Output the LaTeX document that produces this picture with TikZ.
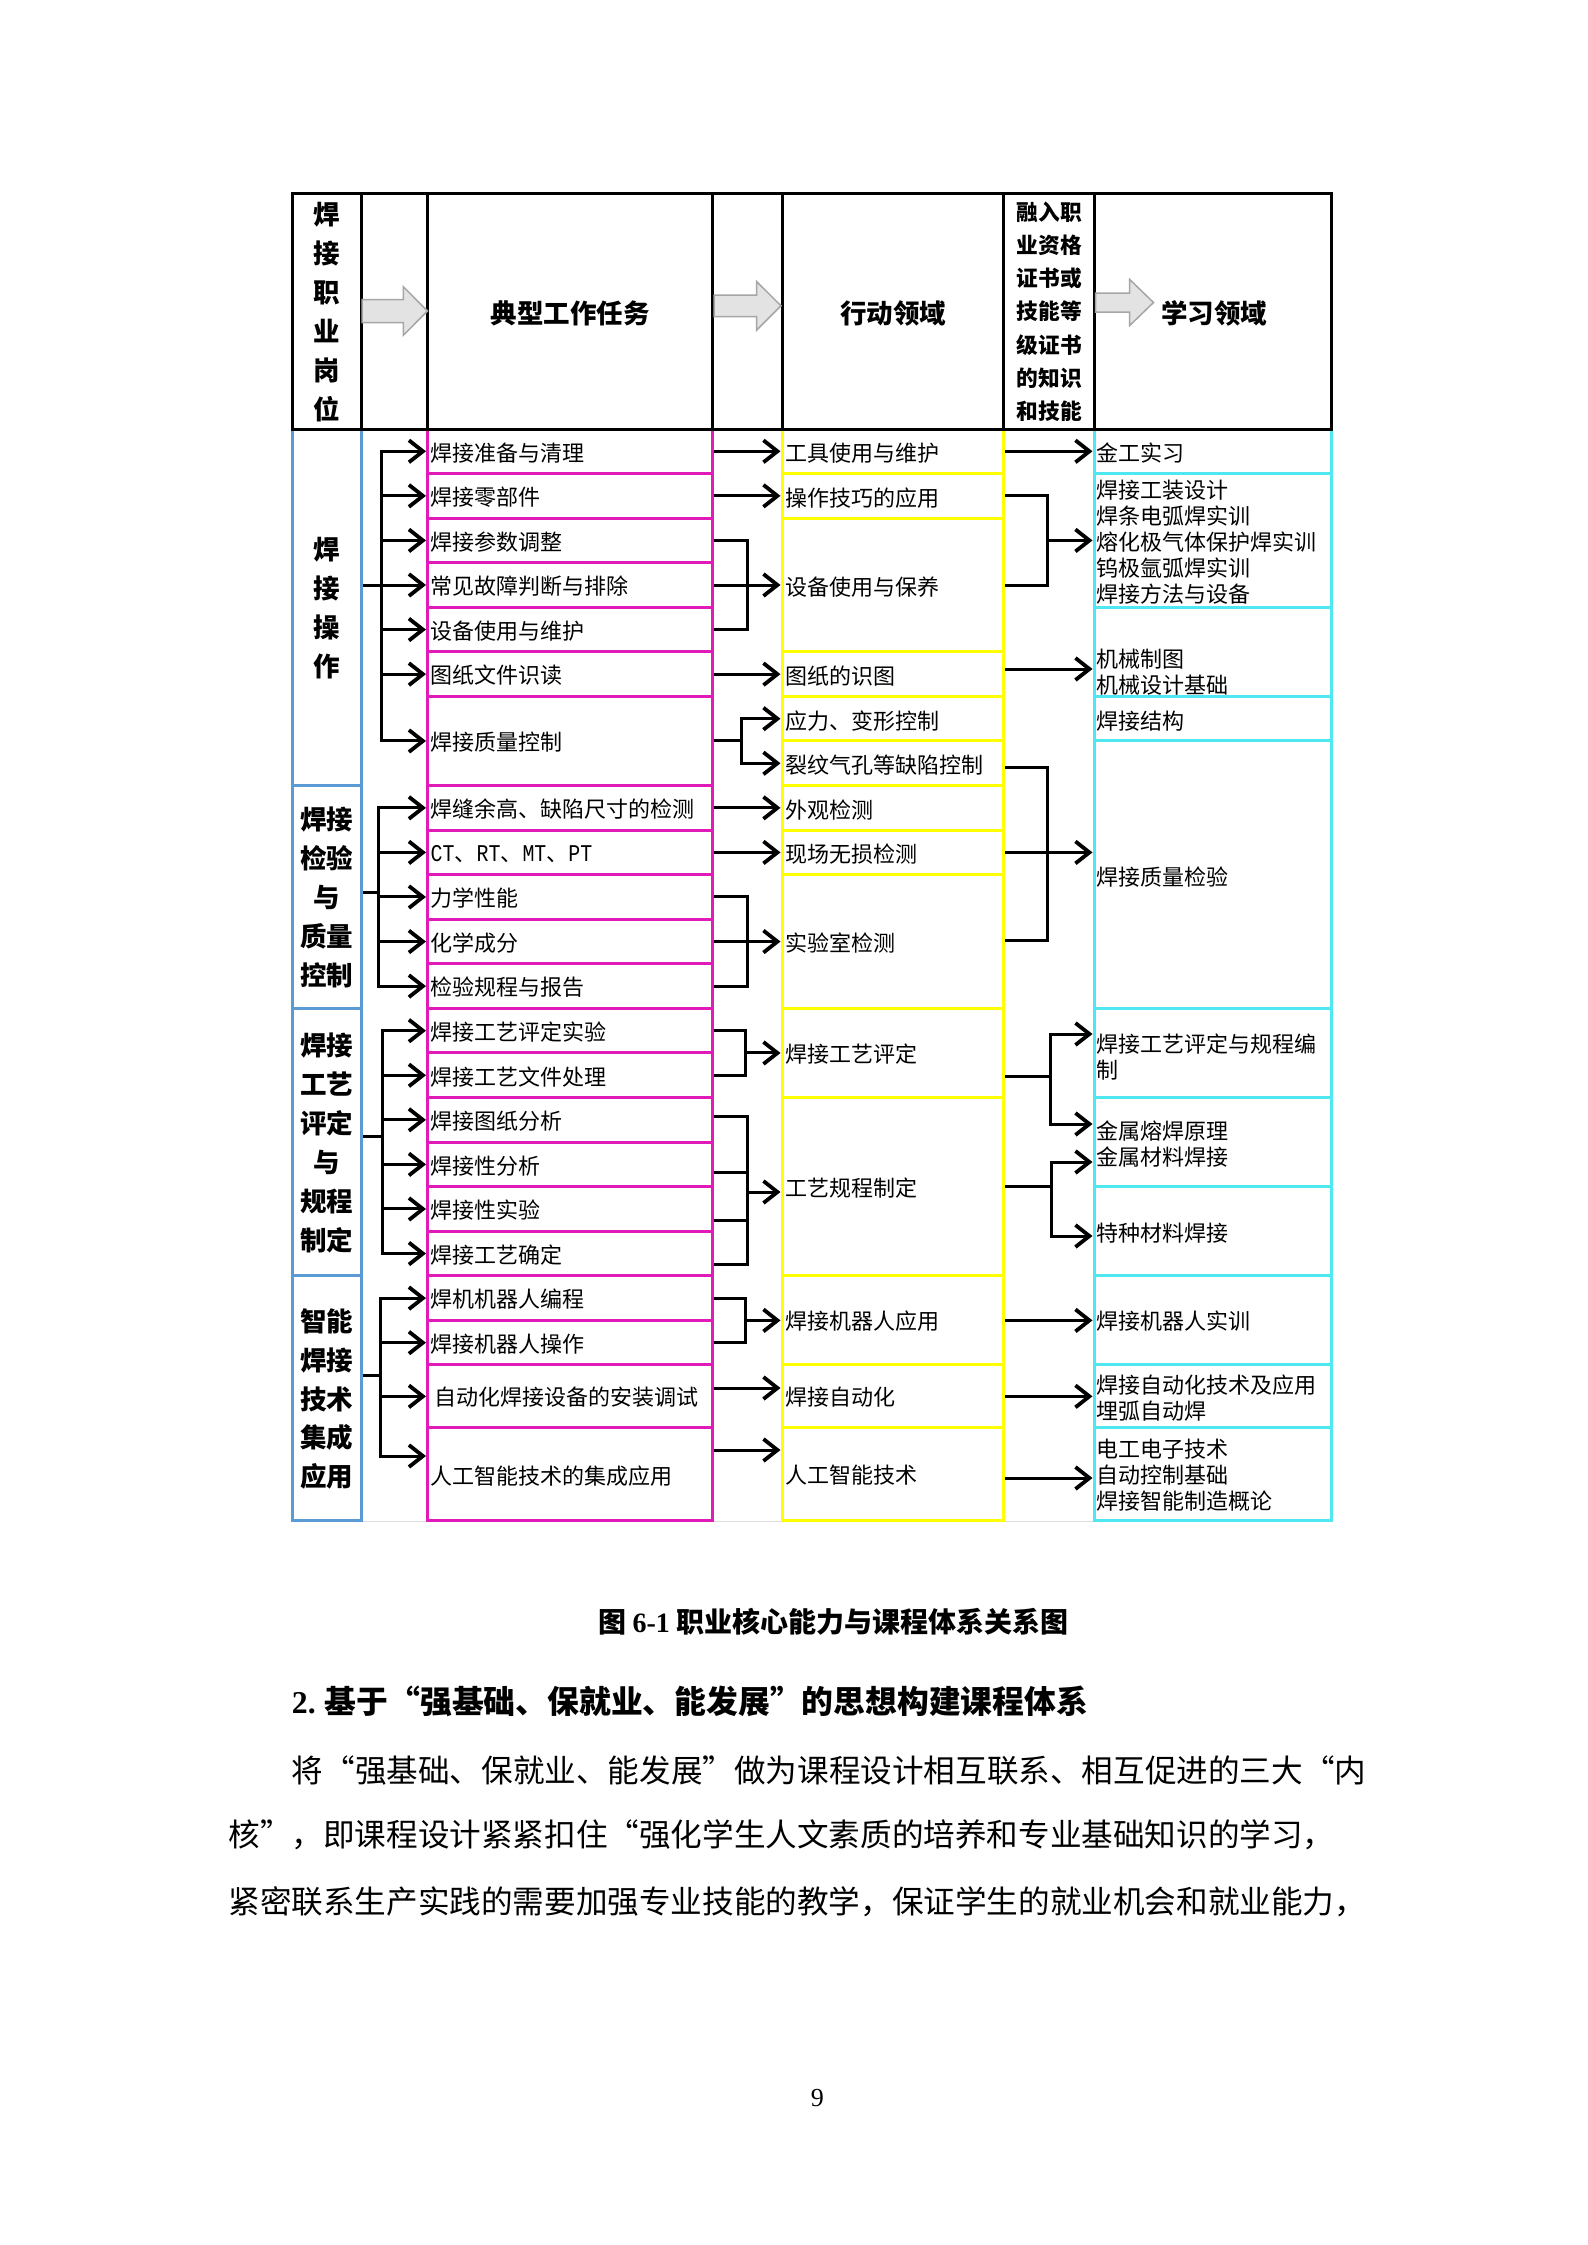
\documentclass[tikz,border=0pt]{standalone}
\usepackage{fontspec}
\setmainfont{Noto Sans CJK SC}
\newfontfamily\monof{Liberation Mono}[FakeStretch=0.83]
\newfontfamily\serifr{Liberation Serif}
\usetikzlibrary{arrows.meta,fit}
\definecolor{pinkc}{RGB}{224,27,185}
\definecolor{yelc}{RGB}{255,255,0}
\definecolor{cyanc}{RGB}{80,232,240}
\definecolor{bluec}{RGB}{91,155,213}
\newcommand\myLQ{\makebox[1em][r]{“}}
\newcommand\myRQ{\makebox[1em][l]{”}}
\begin{document}
\begin{tikzpicture}[x=1pt,y=-1pt,
  cell/.style={inner sep=0pt, line width=3pt},
  hdr/.style={cell, draw=black},
  bcell/.style={cell, draw=bluec},
  pcell/.style={cell, draw=pinkc},
  ycell/.style={cell, draw=yelc},
  ccell/.style={cell, draw=cyanc},
  txt/.style={anchor=west, inner sep=0pt, font=\fontsize{22}{26}\selectfont, align=left},
  hlab/.style={anchor=center, inner sep=0pt, font=\fontsize{26.5}{38.9}\selectfont\bfseries, align=center},
  conn/.style={line width=3pt, draw=black},
  arr/.style={conn, -{Straight Barb[length=14pt,width=22pt,line width=3.8pt]}},
  garrow/.style={fill=gray!22, draw=gray!70, line width=1.5pt, line join=miter},
  para/.style={anchor=west, inner sep=0pt, font=\fontsize{31.6}{36}\selectfont}
]
\fill[white] (0,0) rectangle (1587,2245);
\useasboundingbox (0,0) rectangle (1587,2245);

% faint bottom line
\draw[gray!25, line width=1.5pt] (292,1521.7) -- (1331,1521.7);

% ---------- blue group cells ----------
\node[bcell, fit={(292,429) (361,785.56)}] (g1) {};
\node[bcell, fit={(292,785.56) (361,1008.41)}] (g2) {};
\node[bcell, fit={(292,1008.41) (361,1275.83)}] (g3) {};
\node[bcell, fit={(292,1275.83) (361,1520.7)}] (g4) {};
\node[hlab] (g1t) at (326.5,608.3) {焊\\接\\操\\作};
\node[hlab] (g2t) at (326.5,897.5) {焊接\\检验\\与\\质量\\控制};
\node[hlab] (g3t) at (326.5,1142.8) {焊接\\工艺\\评定\\与\\规程\\制定};
\node[hlab] (g4t) at (326.5,1399) {智能\\焊接\\技术\\集成\\应用};

% ---------- pink task cells ----------
\node[pcell, fit={(427.5,429) (712.5,473.57)}] (t1) {};
\node[pcell, fit={(427.5,473.57) (712.5,518.14)}] (t2) {};
\node[pcell, fit={(427.5,518.14) (712.5,562.71)}] (t3) {};
\node[pcell, fit={(427.5,562.71) (712.5,607.28)}] (t4) {};
\node[pcell, fit={(427.5,607.28) (712.5,651.85)}] (t5) {};
\node[pcell, fit={(427.5,651.85) (712.5,696.42)}] (t6) {};
\node[pcell, fit={(427.5,696.42) (712.5,785.56)}] (t7) {};
\node[pcell, fit={(427.5,785.56) (712.5,830.13)}] (t8) {};
\node[pcell, fit={(427.5,830.13) (712.5,874.70)}] (t9) {};
\node[pcell, fit={(427.5,874.70) (712.5,919.27)}] (t10) {};
\node[pcell, fit={(427.5,919.27) (712.5,963.84)}] (t11) {};
\node[pcell, fit={(427.5,963.84) (712.5,1008.41)}] (t12) {};
\node[pcell, fit={(427.5,1008.41) (712.5,1052.98)}] (t13) {};
\node[pcell, fit={(427.5,1052.98) (712.5,1097.55)}] (t14) {};
\node[pcell, fit={(427.5,1097.55) (712.5,1142.12)}] (t15) {};
\node[pcell, fit={(427.5,1142.12) (712.5,1186.69)}] (t16) {};
\node[pcell, fit={(427.5,1186.69) (712.5,1231.26)}] (t17) {};
\node[pcell, fit={(427.5,1231.26) (712.5,1275.83)}] (t18) {};
\node[pcell, fit={(427.5,1275.83) (712.5,1320.40)}] (t19) {};
\node[pcell, fit={(427.5,1320.40) (712.5,1364.97)}] (t20) {};
\node[pcell, fit={(427.5,1364.97) (712.5,1427.7)}] (t21) {};
\node[pcell, fit={(427.5,1427.7) (712.5,1520.7)}] (t22) {};

% ---------- yellow action cells ----------
\node[ycell, fit={(782,429) (1003.5,473.57)}] (a1) {};
\node[ycell, fit={(782,473.57) (1003.5,518.14)}] (a2) {};
\node[ycell, fit={(782,518.14) (1003.5,651.85)}] (a3) {};
\node[ycell, fit={(782,651.85) (1003.5,696.42)}] (a4) {};
\node[ycell, fit={(782,696.42) (1003.5,740.99)}] (a5) {};
\node[ycell, fit={(782,740.99) (1003.5,785.56)}] (a6) {};
\node[ycell, fit={(782,785.56) (1003.5,830.13)}] (a7) {};
\node[ycell, fit={(782,830.13) (1003.5,874.70)}] (a8) {};
\node[ycell, fit={(782,874.70) (1003.5,1008.41)}] (a9) {};
\node[ycell, fit={(782,1008.41) (1003.5,1097.55)}] (a10) {};
\node[ycell, fit={(782,1097.55) (1003.5,1275.83)}] (a11) {};
\node[ycell, fit={(782,1275.83) (1003.5,1364.97)}] (a12) {};
\node[ycell, fit={(782,1364.97) (1003.5,1427.7)}] (a13) {};
\node[ycell, fit={(782,1427.7) (1003.5,1520.7)}] (a14) {};

% ---------- cyan learning cells ----------
\node[ccell, fit={(1094,429) (1331,473.57)}] (l1) {};
\node[ccell, fit={(1094,473.57) (1331,607.28)}] (l2) {};
\node[ccell, fit={(1094,607.28) (1331,696.42)}] (l3) {};
\node[ccell, fit={(1094,696.42) (1331,740.99)}] (l4) {};
\node[ccell, fit={(1094,740.99) (1331,1008.41)}] (l5) {};
\node[ccell, fit={(1094,1008.41) (1331,1097.55)}] (l6) {};
\node[ccell, fit={(1094,1097.55) (1331,1186.69)}] (l7) {};
\node[ccell, fit={(1094,1186.69) (1331,1275.83)}] (l8) {};
\node[ccell, fit={(1094,1275.83) (1331,1364.97)}] (l9) {};
\node[ccell, fit={(1094,1364.97) (1331,1427.7)}] (l10) {};
\node[ccell, fit={(1094,1427.7) (1331,1520.7)}] (l11) {};

% ---------- header ----------
\node[hdr, fit={(292,194) (361,429)}] (h1) {};
\node[hdr, fit={(361,194) (427.5,429)}] (h2) {};
\node[hdr, fit={(427.5,194) (712.5,429)}] (h3) {};
\node[hdr, fit={(712.5,194) (782,429)}] (h4) {};
\node[hdr, fit={(782,194) (1003.5,429)}] (h5) {};
\node[hdr, fit={(1003.5,194) (1094,429)}] (h6) {};
\node[hdr, fit={(1094,194) (1331,429)}] (h7) {};
\node[hlab, font=\fontsize{26.5}{39}\selectfont\bfseries] (h1t) at (326.5,312.5) {焊\\接\\职\\业\\岗\\位};
\node[hlab] (h3t) at (570,313.3) {典型工作任务};
\node[hlab] (h5t) at (893,313.3) {行动领域};
\node[hlab, font=\fontsize{21.7}{33.3}\selectfont\bfseries] (h6t) at (1049.5,311.7) {融入职\\业资格\\证书或\\技能等\\级证书\\的知识\\和技能};
\node[hlab] (h7t) at (1214,313.3) {学习领域};

% gray block arrows
\draw[garrow] (362,299.5) -- (403.3,299.5) -- (403.3,286.7) -- (427.5,311) -- (403.3,335.3) -- (403.3,322.5) -- (362,322.5) -- cycle;
\draw[garrow] (714,295) -- (756.7,295) -- (756.7,281.7) -- (781,305.8) -- (756.7,330) -- (756.7,316.6) -- (714,316.6) -- cycle;
\draw[garrow] (1095.5,293) -- (1129.5,293) -- (1129.5,279.3) -- (1153.5,302.5) -- (1129.5,325.7) -- (1129.5,312) -- (1095.5,312) -- cycle;

% ---------- texts: tasks ----------
\node[txt] (tt1) at (430.5,452.8) {焊接准备与清理};
\node[txt] (tt2) at (430.5,497.4) {焊接零部件};
\node[txt] (tt3) at (430.5,541.9) {焊接参数调整};
\node[txt] (tt4) at (430.5,586.5) {常见故障判断与排除};
\node[txt] (tt5) at (430.5,631.1) {设备使用与维护};
\node[txt] (tt6) at (430.5,675.6) {图纸文件识读};
\node[txt] (tt7) at (430.5,742.5) {焊接质量控制};
\node[txt] (tt8) at (430.5,809.3) {焊缝余高、缺陷尺寸的检测};
\node[txt] (tt9) at (430.5,853.9) {{\monof\fontsize{24}{26}\selectfont CT}、{\monof\fontsize{24}{26}\selectfont RT}、{\monof\fontsize{24}{26}\selectfont MT}、{\monof\fontsize{24}{26}\selectfont PT}};
\node[txt] (tt10) at (430.5,898.5) {力学性能};
\node[txt] (tt11) at (430.5,943.1) {化学成分};
\node[txt] (tt12) at (430.5,987.6) {检验规程与报告};
\node[txt] (tt13) at (430.5,1032.2) {焊接工艺评定实验};
\node[txt] (tt14) at (430.5,1076.8) {焊接工艺文件处理};
\node[txt] (tt15) at (430.5,1121.3) {焊接图纸分析};
\node[txt] (tt16) at (430.5,1165.9) {焊接性分析};
\node[txt] (tt17) at (430.5,1210.5) {焊接性实验};
\node[txt] (tt18) at (430.5,1255) {焊接工艺确定};
\node[txt] (tt19) at (430.5,1299.6) {焊机机器人编程};
\node[txt] (tt20) at (430.5,1344.2) {焊接机器人操作};
\node[txt] (tt21) at (434,1397.5) {自动化焊接设备的安装调试};
\node[txt] (tt22) at (430.5,1476) {人工智能技术的集成应用};

% ---------- texts: actions ----------
\node[txt] (ta1) at (785,453.3) {工具使用与维护};
\node[txt] (ta2) at (785,497.7) {操作技巧的应用};
\node[txt] (ta3) at (785,586.7) {设备使用与保养};
\node[txt] (ta4) at (785,676) {图纸的识图};
\node[txt] (ta5) at (785,720.7) {应力、变形控制};
\node[txt] (ta6) at (785,765) {裂纹气孔等缺陷控制};
\node[txt] (ta7) at (785,810) {外观检测};
\node[txt] (ta8) at (785,854) {现场无损检测};
\node[txt] (ta9) at (785,943.3) {实验室检测};
\node[txt] (ta10) at (785,1054) {焊接工艺评定};
\node[txt] (ta11) at (785,1187.6) {工艺规程制定};
\node[txt] (ta12) at (785,1321.2) {焊接机器人应用};
\node[txt] (ta13) at (785,1397.2) {焊接自动化};
\node[txt] (ta14) at (785,1475) {人工智能技术};

% ---------- texts: learning ----------
\node[txt] (tl1) at (1096,453.3) {金工实习};
\node[txt] (tl2) at (1096,542.3) {焊接工装设计\\焊条电弧焊实训\\熔化极气体保护焊实训\\钨极氩弧焊实训\\焊接方法与设备};
\node[txt] (tl3) at (1096,672.5) {机械制图\\机械设计基础};
\node[txt] (tl4) at (1096,720.7) {焊接结构};
\node[txt] (tl5) at (1096,876.7) {焊接质量检验};
\node[txt] (tl6) at (1096,1056.7) {焊接工艺评定与规程编\\制};
\node[txt] (tl7) at (1096,1144.5) {金属熔焊原理\\金属材料焊接};
\node[txt] (tl8) at (1096,1233.3) {特种材料焊接};
\node[txt] (tl9) at (1096,1321.2) {焊接机器人实训};
\node[txt] (tl10) at (1096,1398) {焊接自动化技术及应用\\埋弧自动焊};
\node[txt] (tl11) at (1096,1475) {电工电子技术\\自动控制基础\\焊接智能制造概论};

% ---------- connectors: groups -> tasks ----------
\coordinate (bus1) at (381,0);
\coordinate (bus2) at (378.5,0);
\coordinate (bus3) at (382,0);
\coordinate (bus4) at (380,0);
\draw[conn] (g1.east |- t4.west) -- (bus1 |- t4.west);
\draw[conn, line cap=rect] (bus1 |- t1.west) -- (bus1 |- t7.west);
\foreach \t in {t1,t2,t3,t4,t5,t6,t7} \draw[arr] (bus1 |- \t.west) -- (\t.west);
\draw[conn] (g2.east |- 0,892) -- (bus2 |- 0,892);
\draw[conn, line cap=rect] (bus2 |- t8.west) -- (bus2 |- t12.west);
\foreach \t in {t8,t9,t10,t11,t12} \draw[arr] (bus2 |- \t.west) -- (\t.west);
\draw[conn] (g3.east |- 0,1136) -- (bus3 |- 0,1136);
\draw[conn, line cap=rect] (bus3 |- t13.west) -- (bus3 |- t18.west);
\foreach \t in {t13,t14,t15,t16,t17,t18} \draw[arr] (bus3 |- \t.west) -- (\t.west);
\draw[conn] (g4.east |- 0,1375) -- (bus4 |- 0,1375);
\draw[conn, line cap=rect] (bus4 |- t19.west) -- (bus4 |- 0,1456);
\foreach \t in {t19,t20,t21} \draw[arr] (bus4 |- \t.west) -- (\t.west);
\draw[arr] (bus4 |- 0,1456) -- (t22.west |- 0,1456);

% ---------- connectors: tasks -> actions ----------
\coordinate (bx) at (747,0);
\coordinate (bx2) at (741.7,0);
\coordinate (bx3) at (745.6,0);
\draw[arr] (t1.east) -- (t1.east -| a1.west);
\draw[arr] (t2.east) -- (t2.east -| a2.west);
\draw[conn] (t3.east) -| (bx |- t5.east) -- (t5.east);
\draw[arr] (t4.east) -- (t4.east -| a3.west);
\draw[arr] (t6.east) -- (t6.east -| a4.west);
\draw[arr] (t7.east) -| (bx2 |- a5.west) -- (a5.west);
\draw[arr] (bx2 |- t7.east) |- (a6.west);
\draw[arr] (t8.east) -- (t8.east -| a7.west);
\draw[arr] (t9.east) -- (t9.east -| a8.west);
\draw[conn] (t10.east) -| (bx |- t12.east) -- (t12.east);
\draw[arr] (t11.east) -- (t11.east -| a9.west);
\draw[conn] (t13.east) -| (bx3 |- t14.east) -- (t14.east);
\draw[arr] (bx3 |- a10.west) -- (a10.west);
\draw[conn] (t15.east |- 0,1116.6) -| (bx |- 0,1264.4) -- (t18.east |- 0,1264.4);
\draw[conn] (t16.east |- 0,1172.4) -- (bx |- 0,1172.4);
\draw[conn] (t17.east |- 0,1220.4) -- (bx |- 0,1220.4);
\draw[arr] (bx |- 0,1192) -- (a11.west |- 0,1192);
\draw[conn] (t19.east) -| (bx3 |- t20.east) -- (t20.east);
\draw[arr] (bx3 |- a12.west) -- (a12.west);
\draw[arr] (t21.east |- 0,1388) -- (a13.west |- 0,1388);
\draw[arr] (t22.east |- 0,1450) -- (a14.west |- 0,1450);

% ---------- connectors: actions -> learning ----------
\coordinate (cx) at (1047,0);
\coordinate (cx2) at (1050,0);
\coordinate (cx3) at (1051.6,0);
\draw[arr] (a1.east) -- (a1.east -| l1.west);
\draw[conn] (a2.east) -| (cx |- a3.east) -- (a3.east);
\draw[arr] (cx |- l2.west) -- (l2.west);
\draw[arr] (a4.east |- 0,669) -- (l3.west |- 0,669);
\draw[conn] (a6.east |- 0,767) -| (cx |- 0,940) -- (a9.east |- 0,940);
\draw[arr] (a8.east) -- (a8.east -| l5.west);
\draw[conn] (a10.east |- 0,1076) -- (cx2 |- 0,1076);
\draw[arr] (cx2 |- 0,1076) |- (l6.west |- 0,1034);
\draw[arr] (cx2 |- 0,1076) |- (l7.west |- 0,1124);
\draw[conn] (a11.east) -- (cx3 |- a11.east);
\draw[arr] (cx3 |- a11.east) |- (l7.west |- 0,1162);
\draw[arr] (cx3 |- a11.east) |- (l8.west |- 0,1236);
\draw[arr] (a12.east) -- (a12.east -| l9.west);
\draw[arr] (a13.east) -- (a13.east -| l10.west);
\draw[arr] (a14.east |- 0,1478) -- (l11.west |- 0,1478);

% ---------- caption and body text ----------
\node[anchor=center, inner sep=0pt, font=\fontsize{28}{32}\selectfont\bfseries] (cap) at (833.3,1621.7) {图 {\serifr\bfseries 6-1} 职业核心能力与课程体系关系图};
\node[para, font=\fontsize{31.8}{36}\selectfont\bfseries] (head) at (291.7,1701.7) {\makebox[33pt][l]{\serifr\bfseries 2.}基于\myLQ{}强基础、保就业、能发展\myRQ{}的思想构建课程体系};
\node[para] (p1) at (291.7,1770) {将\myLQ{}强基础、保就业、能发展\myRQ{}做为课程设计相互联系、相互促进的三大\myLQ{}内};
\node[para] (p2) at (228.3,1835) {核\myRQ{}，即课程设计紧紧扣住\myLQ{}强化学生人文素质的培养和专业基础知识的学习，};
\node[para] (p3) at (228.3,1901.7) {紧密联系生产实践的需要加强专业技能的教学，保证学生的就业机会和就业能力，};
\node[anchor=center, inner sep=0pt, font=\fontsize{26}{30}\selectfont\serifr] (pg) at (817.3,2097.7) {9};
\end{tikzpicture}
\end{document}
